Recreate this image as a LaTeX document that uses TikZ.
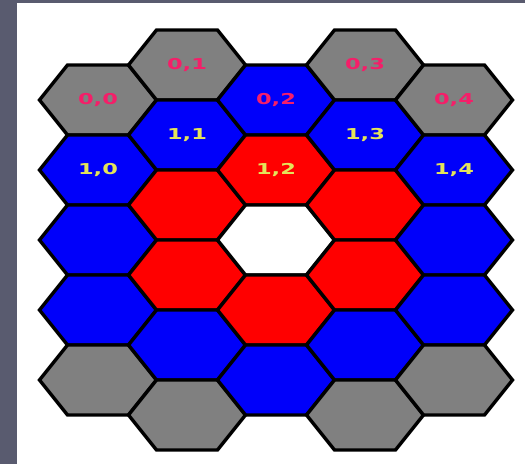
\documentclass[tikz,border=0pt]{standalone}
\usepackage{fontspec}
\newfontfamily\hexfont{DejaVu Sans}
\usepackage{tikz}
\usetikzlibrary{positioning}
\usepackage{xcolor}

\definecolor{framegray}{RGB}{89,91,111}
\definecolor{cellgray}{RGB}{128,128,128}
\definecolor{cellblue}{RGB}{0,0,250}
\definecolor{cellred}{RGB}{255,0,0}
\definecolor{namepink}{RGB}{245,30,105}
\definecolor{nameyellow}{RGB}{228,228,90}

\newcommand{\hexname}[1]{\scalebox{1.5}[1]{#1}}

\begin{document}
\begin{tikzpicture}[
      x=1pt, y=-1pt,
      hexline/.style={draw=black, line width=3.4pt, line join=miter},
      pics/hexcell/.style={code={
          \path[hexline, fill=#1] (-58.5,0) -- (-30.5,-35) -- (30.5,-35)
            -- (58.5,0) -- (30.5,35) -- (-30.5,35) -- cycle;
        }},
      cellname/.style={font=\hexfont\bfseries\fontsize{15}{15}\selectfont, inner sep=1pt},
    ]
    \useasboundingbox (0,0) rectangle (525,464);
    % Slide background
    \fill[white] (0,0) rectangle (525,464);
    \fill[framegray] (0,0) rectangle (17,464);
    \fill[framegray] (0,0) rectangle (525,2.5);

    % Cell centres (odd columns sit half a cell higher)
    \foreach \c in {0,...,4} {
        \foreach \r in {0,...,5} {
            \coordinate (h\r\c) at ({98+89*\c}, {100+70*\r-35*mod(\c,2)});
          }
      }

    % Grid cells
    \foreach \r/\c/\col in {0/0/cellgray, 1/0/cellblue, 2/0/cellblue, 3/0/cellblue, 4/0/cellgray,
        0/1/cellgray, 1/1/cellblue, 2/1/cellred, 3/1/cellred, 4/1/cellblue, 5/1/cellgray,
        0/2/cellblue, 1/2/cellred, 2/2/white, 3/2/cellred, 4/2/cellblue,
        0/3/cellgray, 1/3/cellblue, 2/3/cellred, 3/3/cellred, 4/3/cellblue, 5/3/cellgray,
        0/4/cellgray, 1/4/cellblue, 2/4/cellblue, 3/4/cellblue, 4/4/cellgray} {
        \pic at (h\r\c) {hexcell=\col};
      }

    % Cell names
    \foreach \c in {0,...,4} {
        \node[cellname, text=namepink] (n0\c) at (h0\c) {\hexname{0,\c}};
        \node[cellname, text=nameyellow] (n1\c) at (h1\c) {\hexname{1,\c}};
      }
  \end{tikzpicture}
\end{document}
